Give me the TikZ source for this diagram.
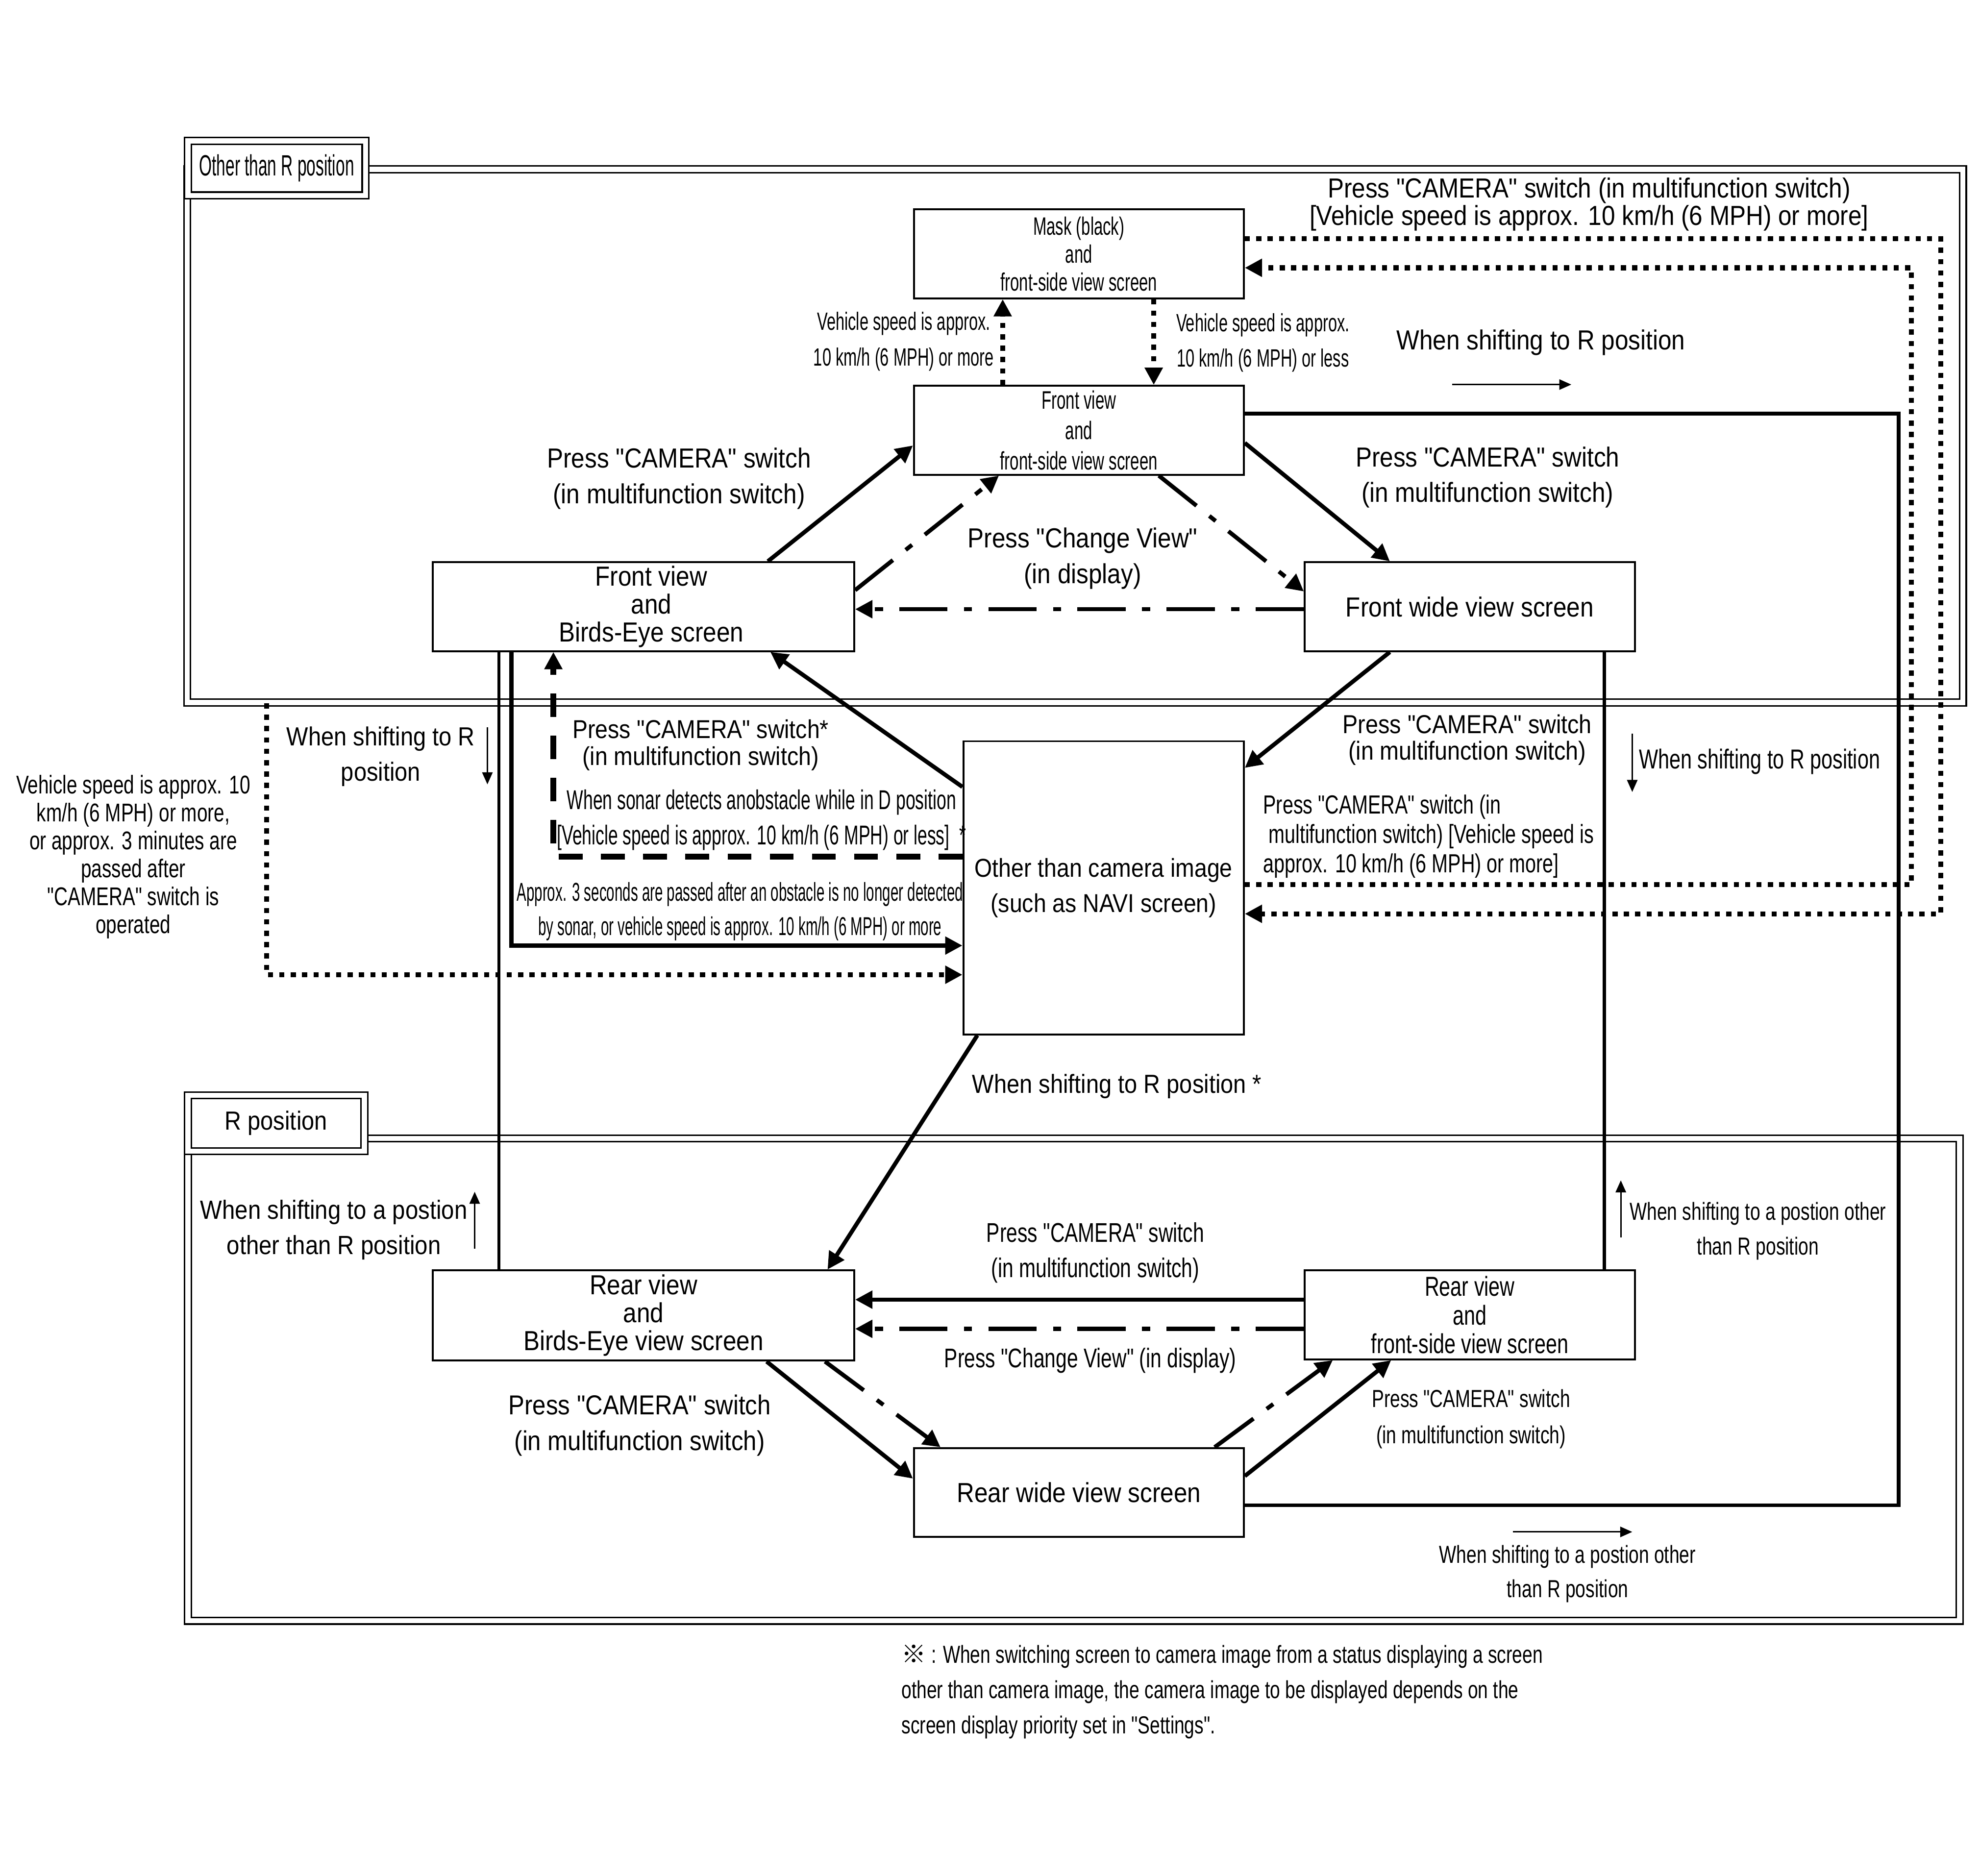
\documentclass[tikz,border=0pt]{standalone}
\usepackage{fontspec}
\setmainfont{Liberation Sans}
\newfontfamily\fA[FakeStretch=0.88]{Liberation Sans}
\newfontfamily\fB[FakeStretch=0.74]{Liberation Sans}
\newfontfamily\fC[FakeStretch=0.64]{Liberation Sans}
\newfontfamily\fD[FakeStretch=0.56]{Liberation Sans}
\newfontfamily\cjk{Noto Sans CJK JP}
\newcommand{\setfs}[2]{\fontsize{#1}{#2}\selectfont}
\usetikzlibrary{arrows.meta}

\tikzset{
    boxsize/.style 2 args={minimum width=#1*0.0259cm, minimum height=#2*0.0259cm},
    screenbox/.style={draw, line width=1.1pt, fill=white, inner sep=0pt, align=center},
    zoneframe/.style={draw, double, double distance=3pt, line width=0.9pt, inner sep=0pt},
    endtip/.style={-{Triangle[length=10pt,width=10pt]}},
    solidarrow/.style={line width=2.4pt, endtip},
    dotline/.style={line width=2.9pt, dash pattern=on 3pt off 3.6pt},
    dashline/.style={line width=3.3pt, dash pattern=on 13.8pt off 10.7pt},
    chainline/.style={line width=2.4pt, dash pattern=on 28pt off 9.5pt on 4.7pt off 9.5pt},
    hintarrow/.style={line width=0.9pt, -{Triangle[length=7pt,width=6pt]}},
    lbl/.style={align=center, inner sep=0pt}
}

\begin{document}
\begin{tikzpicture}[x=0.0259cm, y=-0.0259cm]
    % page
    \path[use as bounding box, fill=white] (0,0) rectangle (1560,1478);
    % position zones
    \node[zoneframe, boxsize={1399}{420}] (zoneother) at (847,343.5) {};
    \node[zoneframe, boxsize={1396}{380}] (zoner) at (846,1087) {};
    \node[zoneframe, fill=white, boxsize={140}{43}, font=\fD\setfs{17}{17}] (tagother) at (218,132.5) {Other than R position};
    \node[zoneframe, fill=white, boxsize={139}{44}, font=\fA\setfs{15.2}{16}] (tagr) at (217.5,885) {R position};
    % screens
    \node[screenbox, boxsize={260}{70}, font=\fC\setfs{14.6}{16.2}] (mask) at (850,200) {Mask (black)\\and\\front-side view screen};
    \node[screenbox, boxsize={260}{70}, font=\fC\setfs{14.7}{17.7}] (fside) at (850,339) {Front view\\and\\front-side view screen};
    \node[screenbox, boxsize={332}{70}, font=\fA\setfs{16}{16.2}] (fbirds) at (507,478) {\hspace*{9pt}Front view\\\hspace*{9pt}and\\\hspace*{9pt}Birds-Eye screen};
    \node[screenbox, boxsize={260}{70}, font=\fA\setfs{16}{16.2}] (fwide) at (1158,478) {Front wide view screen};
    \node[screenbox, boxsize={221}{231}, font=\fA\setfs{15}{20.6}] (other) at (869.5,699.5) {Other than camera image\\(such as NAVI screen)};
    \node[screenbox, boxsize={332}{71}, font=\fA\setfs{16}{16.2}] (rbirds) at (507,1036.5) {Rear view\\and\\Birds-Eye view screen};
    \node[screenbox, boxsize={260}{70}, font=\fB\setfs{15.9}{16.6}] (rside) at (1158,1036) {Rear view\\and\\front-side view screen};
    \node[screenbox, boxsize={260}{70}, font=\fA\setfs{16}{16.2}] (rwide) at (850,1176) {Rear wide view screen};
    % guide points (columns)
    \coordinate (xup) at (790,0);
    \coordinate (xdown) at (909,0);
    \coordinate (xouter) at (1529,0);
    \coordinate (xinner) at (1506,0);
    \coordinate (xloop) at (1496,0);
    \coordinate (xwide) at (1264,0);
    \coordinate (xbird) at (393,0);
    \coordinate (xback) at (403,0);
    \coordinate (xsonar) at (436,0);
    \coordinate (xleft) at (210,0);
    \coordinate (xfb) at (605,0);
    \coordinate (xfw) at (1095,0);
    \coordinate (xret) at (607,0);
    \coordinate (xcvup) at (787,0);
    \coordinate (xcvdn) at (913,0);
    \coordinate (xrs) at (770,0);
    \coordinate (xre) at (652,0);
    \coordinate (xrb) at (604,0);
    \coordinate (xrbc) at (650,0);
    \coordinate (xrwc) at (741,0);
    \coordinate (xrsd) at (1096,0);
    \coordinate (xrwd) at (957,0);
    \coordinate (xrsc) at (1050,0);
    % guide points (rows)
    \coordinate (youter) at (0,188);
    \coordinate (youterret) at (0,720);
    \coordinate (yinner) at (0,697);
    \coordinate (yinnerret) at (0,211);
    \coordinate (yloop) at (0,326);
    \coordinate (yloopret) at (0,1186);
    \coordinate (yback) at (0,745);
    \coordinate (ysonar) at (0,675);
    \coordinate (yleft) at (0,768);
    \coordinate (yfs) at (0,351);
    \coordinate (yfsout) at (0,349);
    \coordinate (yoth) at (0,605);
    \coordinate (yothout) at (0,620);
    \coordinate (ycvfb) at (0,465);
    \coordinate (ycvfw) at (0,466);
    \coordinate (ycv) at (0,480);
    \coordinate (yrcam) at (0,1024);
    \coordinate (yrcv) at (0,1047);
    \coordinate (yrw) at (0,1165);
    \coordinate (yrwout) at (0,1163);
    % mask <-> front view
    \draw[dotline, endtip] (fside.north -| xup) -- (mask.south -| xup);
    \draw[dotline, endtip] (mask.south -| xdown) -- (fside.north -| xdown);
    % dotted loops on the right
    \draw[dotline, endtip] (mask.east |- youter) -- (xouter |- youter) -- (xouter |- youterret) -- (other.east |- youterret);
    \draw[dotline, endtip] (other.east |- yinner) -- (xinner |- yinner) -- (xinner |- yinnerret) -- (mask.east |- yinnerret);
    % shift lines
    \draw[line width=2.2pt] (fside.east |- yloop) -- (xloop |- yloop) -- (xloop |- yloopret) -- (rwide.east |- yloopret);
    \draw[line width=1.8pt] (fwide.south -| xwide) -- (rside.north -| xwide);
    \draw[line width=1.8pt] (fbirds.south -| xbird) -- (rbirds.north -| xbird);
    % sonar and timeout
    \draw[solidarrow] (fbirds.south -| xback) -- (xback |- yback) -- (other.west |- yback);
    \draw[dashline, endtip] (other.west |- ysonar) -- (xsonar |- ysonar) -- (fbirds.south -| xsonar);
    \draw[dotline, endtip] (zoneother.south -| xleft) -- (xleft |- yleft) -- (other.west |- yleft);
    % camera switch (front)
    \draw[solidarrow] (fbirds.north -| xfb) -- (fside.west |- yfs);
    \draw[solidarrow] (fside.east |- yfsout) -- (fwide.north -| xfw);
    \draw[solidarrow] (fwide.south -| xfw) -- (other.east |- yoth);
    \draw[solidarrow] (other.west |- yothout) -- (fbirds.south -| xret);
    % change view (front)
    \draw[chainline, endtip] (fbirds.east |- ycvfb) -- (fside.south -| xcvup);
    \draw[chainline, endtip] (fside.south -| xcvdn) -- (fwide.west |- ycvfw);
    \draw[chainline, endtip] (fwide.west |- ycv) -- (fbirds.east |- ycv);
    % rear screens
    \draw[solidarrow] (other.south -| xrs) -- (rbirds.north -| xre);
    \draw[solidarrow] (rside.west |- yrcam) -- (rbirds.east |- yrcam);
    \draw[chainline, endtip] (rside.west |- yrcv) -- (rbirds.east |- yrcv);
    \draw[solidarrow] (rbirds.south -| xrb) -- (rwide.west |- yrw);
    \draw[chainline, endtip] (rbirds.south -| xrbc) -- (rwide.north -| xrwc);
    \draw[solidarrow] (rwide.east |- yrwout) -- (rside.south -| xrsd);
    \draw[chainline, endtip] (rwide.north -| xrwd) -- (rside.south -| xrsc);
    % labels (upper zone)
    \node[lbl, font=\fA\setfs{16}{14.7}] (lblcamhigh) at (1252,161) {Press "CAMERA" switch (in multifunction switch)\\{}[Vehicle speed is approx. 10 km/h (6 MPH) or more]};
    \node[lbl, font=\fA\setfs{16}{20}] (lblshift) at (1214,270) {When shifting to R position};
    \node[lbl, font=\fC\setfs{14.5}{20.6}] (lblfast) at (712,269) {Vehicle speed is approx.\\10 km/h (6 MPH) or more};
    \node[lbl, font=\fC\setfs{14.5}{20.6}] (lblslow) at (995,270) {Vehicle speed is approx.\\10 km/h (6 MPH) or less};
    \node[lbl, font=\fA\setfs{16}{20.6}] (lblcamfb) at (535,377) {Press "CAMERA" switch\\(in multifunction switch)};
    \node[lbl, font=\fA\setfs{16}{20.6}] (lblcamfw) at (1172,376) {Press "CAMERA" switch\\(in multifunction switch)};
    \node[lbl, font=\fA\setfs{16}{20.6}] (lblview) at (853,440) {Press "Change View"\\(in display)};
    % labels (middle)
    \node[lbl, font=\fA\setfs{15}{15.5}] (lblcamstar) at (552,587) {Press "CAMERA" switch*\\(in multifunction switch)};
    \node[lbl, font=\fC\setfs{15.8}{20.6}] (lblsonar) at (600,646) {When sonar detects anobstacle while in D position\\{}[Vehicle speed is approx. 10 km/h (6 MPH) or less]\ \ *};
    \node[lbl, font=\fD\setfs{15}{19.9}] (lblclear) at (583,718) {Approx. 3 seconds are passed after an obstacle is no longer detected\\by sonar, or vehicle speed is approx. 10 km/h (6 MPH) or more};
    \node[lbl, font=\fB\setfs{14.9}{16.2}] (lbltimeout) at (105,675) {Vehicle speed is approx. 10\\km/h (6 MPH) or more,\\or approx. 3 minutes are\\passed after\\"CAMERA" switch is\\operated};
    \node[lbl, font=\fA\setfs{15.2}{20.6}] (lblshiftfb) at (300,596) {When shifting to R\\position};
    \node[lbl, font=\fA\setfs{15.1}{15.5}] (lblcamoth) at (1156,583) {Press "CAMERA" switch\\(in multifunction switch)};
    \node[lbl, anchor=west, font=\fB\setfs{15.9}{20}] (lblshiftfw) at (1291,600) {When shifting to R position};
    \node[lbl, anchor=west, align=left, font=\fB\setfs{15.2}{17}] (lblcamback) at (995,659) {Press "CAMERA" switch (in\\\ multifunction switch) [Vehicle speed is\\approx. 10 km/h (6 MPH) or more]};
    \node[lbl, font=\fA\setfs{15.2}{20}] (lblshiftr) at (880,856) {When shifting to R position *};
    % labels (lower zone)
    \node[lbl, font=\fA\setfs{15.3}{20.6}] (lblbackfb) at (263,969) {When shifting to a postion\\other than R position};
    \node[lbl, font=\fB\setfs{14.3}{20}] (lblbackfw) at (1385,970) {When shifting to a postion other\\than R position};
    \node[lbl, font=\fB\setfs{14.3}{20}] (lblbackrw) at (1235,1240) {When shifting to a postion other\\than R position};
    \node[lbl, font=\fB\setfs{15.7}{20.6}] (lblcamrs) at (863,987) {Press "CAMERA" switch\\(in multifunction switch)};
    \node[lbl, font=\fB\setfs{15.7}{20}] (lblviewrs) at (859,1072) {Press "Change View" (in display)};
    \node[lbl, font=\fB\setfs{14.3}{21}] (lblcamrw) at (1159,1118) {Press "CAMERA" switch\\(in multifunction switch)};
    \node[lbl, font=\fA\setfs{15.9}{20.6}] (lblcamrb) at (504,1123) {Press "CAMERA" switch\\(in multifunction switch)};
    % direction marks
    \coordinate (markAa) at (1144,303); \coordinate (markAb) at (1238,303);
    \coordinate (markBa) at (384,573); \coordinate (markBb) at (384,618);
    \coordinate (markCa) at (1286,578); \coordinate (markCb) at (1286,624);
    \coordinate (markDa) at (374,984); \coordinate (markDb) at (374,939);
    \coordinate (markEa) at (1277,975); \coordinate (markEb) at (1277,930);
    \coordinate (markFa) at (1192,1207); \coordinate (markFb) at (1286,1207);
    \draw[hintarrow] (markAa) -- (markAb);
    \draw[hintarrow] (markBa) -- (markBb);
    \draw[hintarrow] (markCa) -- (markCb);
    \draw[hintarrow] (markDa) -- (markDb);
    \draw[hintarrow] (markEa) -- (markEb);
    \draw[hintarrow] (markFa) -- (markFb);
    % note
    \node[lbl, anchor=west, align=left, font=\fB\setfs{14.3}{20.6}] (note) at (710,1333) {{\cjk ※} : When switching screen to camera image from a status displaying a screen\\other than camera image, the camera image to be displayed depends on the\\screen display priority set in "Settings".};
\end{tikzpicture}
\end{document}
